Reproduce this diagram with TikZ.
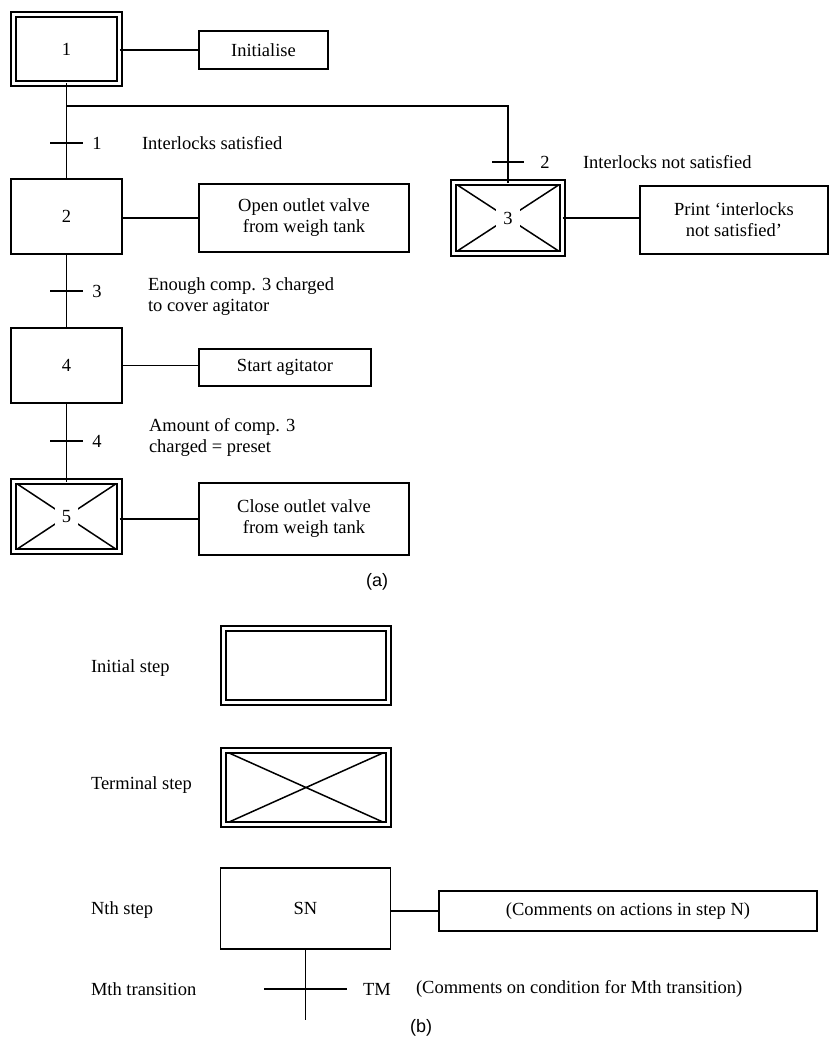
\documentclass[tikz,border=0pt]{standalone}
\usepackage{fontspec}
\setmainfont{Liberation Serif}
\newfontfamily\capfont{Liberation Sans}
\begin{document}
\begin{tikzpicture}[x=1pt,y=-1pt,
  line width=1.7pt,
  every node/.style={font=\fontsize{18.5}{21}\selectfont, inner sep=0pt, outer sep=0pt},
  stepbox/.style={draw, line width=1.7pt},
  dbl/.style={draw, double, double distance=3.6pt, line width=1.6pt},
  termbox/.style={dbl, path picture={
      \draw[line width=1.5pt]
        (path picture bounding box.north west) -- (path picture bounding box.south east)
        (path picture bounding box.south west) -- (path picture bounding box.north east);}},
  actbox/.style={draw, line width=1.7pt, align=center},
  stepnum/.style={fill=white, inner xsep=7pt, inner ysep=3pt},
  tbar/.style={minimum height=0pt},
  tlabel/.style={anchor=center},
  cond/.style={anchor=west, align=left},
  caption/.style={font=\capfont\fontsize{18}{21}\selectfont}
]
\useasboundingbox (0,0) rectangle (830,1038);

% ---------- (a) sequence ----------
\node[dbl, minimum width=106, minimum height=69] (s1) at (66.5,49) {1};
\node[actbox, minimum width=129, minimum height=38] (a1) at (263.5,50) {Initialise};
\draw (s1.east |- a1.west) -- (a1.west);

\node[stepbox, minimum width=111, minimum height=75] (s2) at (66.5,216.5) {2};
\node[actbox, minimum width=210, minimum height=68] (a2) at (304,218) {Open outlet valve\\from weigh tank};
\draw (s2.east |- a2.west) -- (a2.west);

\node[termbox, minimum width=109, minimum height=71] (s3) at (508,218) {};
\node[stepnum] at (s3) {3};
\node[actbox, minimum width=188, minimum height=68] (a3) at (734,220) {Print `interlocks\\not satisfied'};
\draw (s3.east) -- (s3.east -| a3.west);

\node[stepbox, minimum width=111, minimum height=75] (s4) at (66.5,365.5) {4};
\node[actbox, minimum width=172, minimum height=37] (a4) at (285,367.5) {Start agitator};
\draw (s4.east) -- (s4.east -| a4.west);

\node[termbox, minimum width=106, minimum height=70] (s5) at (66.5,516.5) {};
\node[stepnum] at (s5) {5};
\node[actbox, minimum width=210, minimum height=72] (a5) at (304,519) {Close outlet valve\\from weigh tank};
\draw (s5.east |- a5.west) -- (a5.west);

% branch to the alternative sequence
\coordinate (br) at (66.5,106);
\draw (s1.south) -- (s2.north);
\draw (br) -| (s3.north);
\draw (s2.south) -- (s4.north);
\draw (s4.south) -- (s5.north);

% transitions
\node[tbar, minimum width=33] (t1) at (66.5,143) {};
\draw (t1.west) -- (t1.east);
\node[tlabel] (n1) at (97,143) {1};
\node[cond] (c1) at (142,143) {Interlocks satisfied};

\node[tbar, minimum width=32] (t2) at (508,162) {};
\draw (t2.west) -- (t2.east);
\node[tlabel] (n2) at (545,162) {2};
\node[cond] (c2) at (583,162) {Interlocks not satisfied};

\node[tbar, minimum width=33] (t3) at (66.5,291) {};
\draw (t3.west) -- (t3.east);
\node[tlabel] (n3) at (97,291) {3};
\node[cond] (c3) at (148,297) {Enough comp. 3 charged\\to cover agitator};

\node[tbar, minimum width=33] (t4) at (66.5,441) {};
\draw (t4.west) -- (t4.east);
\node[tlabel] (n4) at (97,441) {4};
\node[cond] (c4) at (149,437) {Amount of comp. 3\\charged = preset};

\node[caption] (capa) at (377,582) {(a)};

% ---------- (b) legend ----------
\node[cond] (l1) at (91,668) {Initial step};
\node[dbl, minimum width=165, minimum height=74] (ini) at (306,665.5) {};

\node[cond] (l2) at (91,785) {Terminal step};
\node[termbox, minimum width=165, minimum height=74] (ter) at (306,787.5) {};

\node[cond] (l3) at (91,910) {Nth step};
\node[stepbox, minimum width=170, minimum height=81] (sn) at (305.5,908.5) {SN};
\node[actbox, minimum width=378, minimum height=40] (cb) at (628,911) {(Comments on actions in step N)};
\draw (sn.east |- cb.west) -- (cb.west);

\node[cond] (l4) at (91,989) {Mth transition};
\node[tbar, minimum width=83] (tm) at (305.5,989) {};
\coordinate (tmend) at (305.5,1020);
\draw (sn.south) -- (tmend);
\draw (tm.west) -- (tm.east);
\node[tlabel] (tmn) at (377,989) {TM};
\node[cond] (tmc) at (416,989) {(Comments on condition for Mth transition)};

\node[caption] (capb) at (421,1028) {(b)};
\end{tikzpicture}
\end{document}
